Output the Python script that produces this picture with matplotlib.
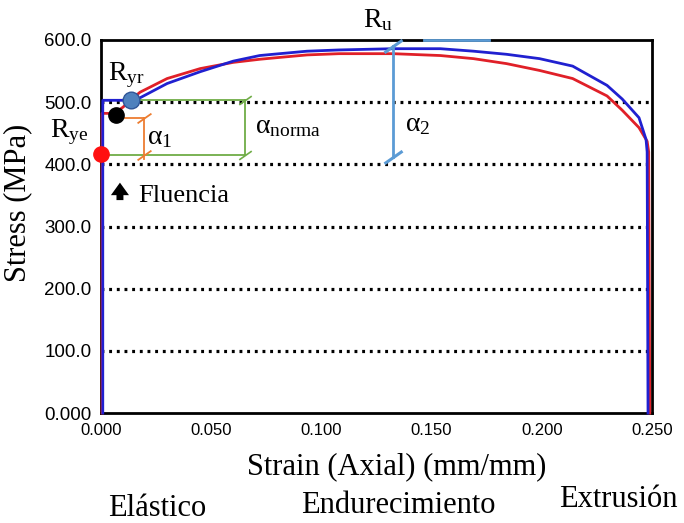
import numpy as np
import matplotlib
matplotlib.use("Agg")
import matplotlib.pyplot as plt
from matplotlib.path import Path

# curvas esfuerzo-deformación
strain_blue = [0.0008, 0.0008, 0.013, 0.0177, 0.030, 0.045, 0.060, 0.072, 0.078, 0.0935,
               0.108, 0.1325, 0.154, 0.169, 0.184, 0.199, 0.214, 0.2296, 0.2365, 0.2441,
               0.2473, 0.2478, 0.2482]
stress_blue = [0, 503, 503, 507, 530, 549, 566, 575, 577, 582,
               584, 586, 586, 582, 577, 570, 558, 527, 505, 475,
               440, 420, 0]

strain_red = [0.0005, 0.0005, 0.006, 0.010, 0.013, 0.0177, 0.030, 0.045, 0.060, 0.072,
              0.078, 0.0935, 0.108, 0.1325, 0.154, 0.169, 0.184, 0.199, 0.214, 0.2296,
              0.2365, 0.2441, 0.2478, 0.2485, 0.2490]
stress_red = [0, 482, 482, 492, 502, 516, 538, 554, 564, 569,
              571, 576, 578, 578, 575, 570, 562, 551, 538, 510,
              487, 459, 437, 420, 0]

# puntos característicos
pt_ryr = (0.0136, 503)
pt_black = (0.0068, 479)
pt_rye = (0.0, 416)

# cotas (alpha_1, alpha_norma, alpha_2)
alpha1_x = 0.0195
alpha1_top, alpha1_bot = 474, 415
anorma_x = 0.0653
anorma_top, anorma_bot = 503, 415
alpha2_x = 0.1325
alpha2_top, alpha2_bot = 590, 412

grid_levels = [100, 200, 300, 400, 500]
yticks = [0, 100, 200, 300, 400, 500, 600]
ytick_labels = ["0.000", "100.0", "200.0", "300.0", "400.0", "500.0", "600.0"]
xticks = [0.0, 0.05, 0.10, 0.15, 0.20, 0.25]
xtick_labels = ["0.000", "0.050", "0.100", "0.150", "0.200", "0.250"]
zonas = ["Elástico", "Endurecimiento", "Extrusión"]


def main():
    plt.rcParams["font.family"] = ["Liberation Serif", "DejaVu Serif"]
    plt.rcParams["mathtext.fontset"] = "custom"
    plt.rcParams["mathtext.rm"] = "Liberation Serif"
    plt.rcParams["mathtext.it"] = "Liberation Serif:italic"

    fig = plt.figure(figsize=(6.84, 5.23), dpi=100)
    ax = fig.add_axes([101 / 684, 1 - 413 / 523, 551 / 684, 373 / 523])

    # rejilla punteada
    for g in grid_levels:
        ax.axhline(g, color="black", ls=(0, (0.9, 1.5)), lw=2.3, zorder=1)

    ax.plot(strain_red, stress_red, color="#e02028", lw=2, zorder=3, clip_on=False)
    ax.plot(strain_blue, stress_blue, color="#2020d0", lw=2, zorder=4, clip_on=False)

    # marcas inclinadas para las cotas
    slash = Path([(-1, -0.7), (1, 0.7)], [Path.MOVETO, Path.LINETO])

    green = "#70ad47"
    ax.plot([pt_ryr[0], anorma_x], [anorma_top, anorma_top], color=green, lw=1.3, zorder=5)
    ax.plot([pt_rye[0], anorma_x], [anorma_bot, anorma_bot], color=green, lw=1.3, zorder=5)
    ax.plot([anorma_x, anorma_x], [anorma_top, anorma_bot], color=green, lw=1.3, zorder=5,
            marker=slash, markersize=9, markeredgewidth=1.2)

    orange = "#ed7d31"
    ax.plot([pt_black[0], alpha1_x], [alpha1_top, alpha1_top], color=orange, lw=1.3, zorder=5)
    ax.plot([alpha1_x, alpha1_x], [alpha1_top, alpha1_bot - 6], color=orange, lw=1.3, zorder=5)
    ax.plot([alpha1_x, alpha1_x], [alpha1_top, alpha1_bot], ls="none", color=orange,
            marker=slash, markersize=10, markeredgewidth=1.3, zorder=5)

    lblue = "#5b9bd5"
    ax.plot([alpha2_x, alpha2_x], [alpha2_top, alpha2_bot], color=lblue, lw=2, zorder=5,
            marker=slash, markersize=13, markeredgewidth=2.2, clip_on=False)
    ax.plot([0.1466, 0.176], [600, 600], color=lblue, lw=2, zorder=6, clip_on=False)

    # puntos
    ax.plot(*pt_ryr, marker="o", markersize=12, color="#4f81bd", markeredgecolor="#2f5597",
            markeredgewidth=1, zorder=7, clip_on=False)
    ax.plot(*pt_black, marker="o", markersize=11, color="black", zorder=7, clip_on=False)
    ax.plot(*pt_rye, marker="o", markersize=11, color="#ff1010", zorder=7, clip_on=False)

    # textos
    fs = 20
    ax.text(0.1257, 632, r"$\mathrm{R_u}$", fontsize=fs, ha="center", va="center", clip_on=False)
    ax.text(0.0030, 543, r"$\mathrm{R_{yr}}$", fontsize=fs, ha="left", va="center")
    ax.text(-0.0232, 451, r"$\mathrm{R_{ye}}$", fontsize=fs, ha="left", va="center", clip_on=False)
    ax.text(0.0209, 443, r"$\mathrm{α_1}$", fontsize=fs, ha="left", va="center")
    ax.text(0.0699, 461, r"$\mathrm{α_{norma}}$", fontsize=fs, ha="left", va="center")
    ax.text(0.138, 464, r"$\mathrm{α_2}$", fontsize=fs, ha="left", va="center")
    ax.annotate("", xy=(0.0086, 375), xytext=(0.0086, 338),
                arrowprops=dict(arrowstyle="simple,head_width=1.3,head_length=0.9,tail_width=0.5",
                                color="black", lw=0))
    ax.text(0.0168, 349, "Fluencia", fontsize=19, ha="left", va="center")

    ax.set_xlim(0, 0.25)
    ax.set_ylim(0, 600)
    ax.set_xticks(xticks)
    ax.set_xticklabels(xtick_labels, fontfamily="Liberation Sans", fontsize=12)
    ax.set_yticks(yticks)
    ax.set_yticklabels(ytick_labels, fontfamily="Liberation Sans", fontsize=13.5)
    ax.tick_params(length=0, pad=7)
    for s in ax.spines.values():
        s.set_linewidth(2)
        s.set_color("black")
        s.set_zorder(2)

    ax.set_ylabel("Stress (MPa)", fontsize=22, va="center")
    ax.yaxis.set_label_coords(-0.151, 0.563)
    ax.set_xlabel("Strain (Axial) (mm/mm)", fontsize=22, va="center")
    ax.xaxis.set_label_coords(0.537, -0.145)

    for name, xp, yp in zip(zonas, [0.102, 0.539, 0.938], [-0.255, -0.249, -0.233]):
        ax.text(xp, yp, name, transform=ax.transAxes, fontsize=22, ha="center", va="center")

    fig.savefig("out.png", dpi=100)
    return 0


if __name__ == "__main__":
    main()
